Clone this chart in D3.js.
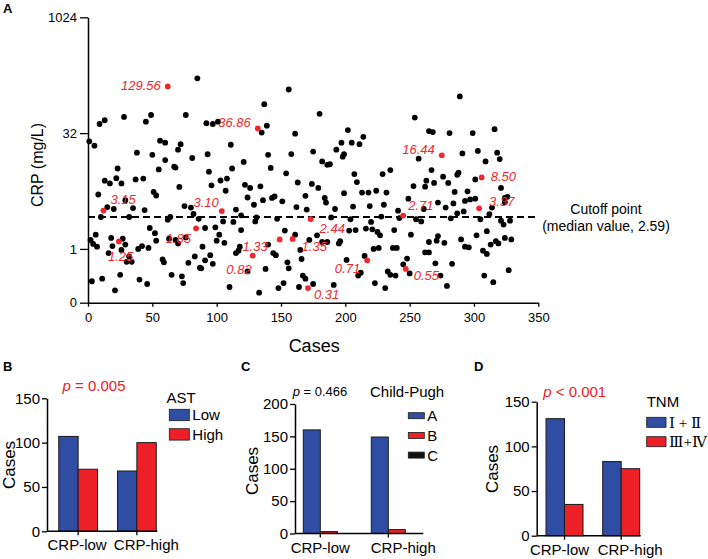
<!DOCTYPE html>
<html>
<head>
<meta charset="utf-8">
<script src="https://cdn.jsdelivr.net/npm/d3@7"></script>
<style>
  body { margin: 0; background: #fff; }
  svg text { font-family: "Liberation Sans", Arial, Helvetica, sans-serif; }
</style>
</head>
<body>
<svg id="chart" width="708" height="559"></svg>
<script>
// ---------- Datos ----------
// Panel A: [caso, CRP (mg/L)] para cada paciente (puntos negros)
const caseCrp = [
  [85,165],[28,52],[49,55],[45,45],[76,55],[9,42],[13,47],[1,25],[5,22],[56,25.5],[60,24],[72,23],[70,19.5],
  [38,17.8],[50,16.7],[60,14.3],[81,15.2],[67,11.7],[68,11.4],[55,10.8],[23,11.1],[22,8.3],[13,7.7],[17,7.1],
  [26,7.1],[37,8.0],[43,8.2],[71,6.4],[51,5.5],[53,4.95],[8,5.1],[29,4.3],[15,3.5],[20,3.3],[35,3.4],[44,3.2],
  [75,3.6],[80,3.45],[10,2.6],[32,2.6],[62,2.4],[64,2.6],[82,2.85],[86,2.46],[48,1.87],[52,1.6],[6,1.53],
  [2,1.31],[4,1.16],[7,1.07],[18,1.39],[27,1.36],[19,1.09],[16,0.88],[29,1.14],[26,0.97],[32,0.8],[30,0.68],
  [34,0.68],[39,1.0],[42,1.09],[47,1.03],[53,1.28],[63,1.36],[68,1.31],[70,1.18],[76,1.41],[78,0.66],[83,0.8],
  [58,0.73],[59,0.67],[3,0.38],[11,0.41],[25,0.46],[40,0.4],[46,0.35],[21,0.29],[65,0.46],[73,0.44],[74,0.36],
  [87,0.57],
  [156,118],[137,76],[92,43],[97,42],[101,45],[139,40],[135,32.5],[161,31.5],[111,22.6],[93,17],[140,16.7],
  [158,17.1],[175,18.4],[121,13.5],[112,11.1],[142,11.3],[94,10.1],[154,9.6],[103,7.75],[108,8.2],[96,6.7],
  [122,6.8],[126,6.2],[134,6.5],[107,5.7],[163,7.3],[174,7.0],[124,4.66],[129,3.75],[136,4.3],[143,4.6],
  [145,4.8],[151,4.15],[169,4.9],[162,3.5],[170,3.25],[115,3.25],[119,2.73],[131,2.57],[130,2.28],[147,2.46],
  [105,2.28],[113,2.24],[99,1.91],[91,1.87],[119,1.76],[102,1.53],[100,1.28],[106,1.2],[89,1.07],[95,0.83],
  [91,0.71],[97,0.64],[88,0.56],[115,0.88],[117,0.95],[118,1.07],[124,0.51],[140,1.14],[144,0.88],[146,0.83],
  [153,1.73],[161,1.53],[165,0.97],[172,1.31],[166,0.74],[155,0.67],[156,0.56],[138,0.55],[167,0.45],
  [169,0.41],[110,0.32],[133,0.27],[148,0.31],[152,0.36],[164,0.32],
  [180,57],[182,13.7],[186,12.4],[188,12.6],[202,35],[197,24],[193,19.5],[205,24],[211,23],[214,28.6],
  [198,15.8],[199,17],[179,6.2],[184,4.6],[185,4.0],[192,3.3],[199,5.3],[207,9.4],[209,7.4],[213,5.4],
  [218,5.4],[224,5.7],[232,5.4],[229,9.4],[235,10.6],[206,3.55],[219,3.6],[230,3.75],[189,2.57],[204,2.43],
  [220,2.24],[228,2.63],[241,3.14],[242,2.52],[254,51],[257,14.9],[253,6.55],[249,4.5],[255,2.43],[259,2.28],
  [203,1.73],[208,1.76],[216,1.84],[221,1.8],[225,1.66],[227,1.5],[238,1.76],[251,1.53],[178,1.5],[182,1.23],
  [186,1.23],[195,1.18],[196,1.26],[222,1.0],[226,1.03],[237,1.03],[240,1.03],[215,0.81],[201,0.72],
  [248,0.75],[245,0.63],[250,0.48],[212,0.49],[210,0.45],[233,0.51],[235,0.46],[239,0.45],[175,0.35],
  [191,0.34],[223,0.36],[231,0.31],
  [289,96],[316,36],[265,34],[268,33],[281,32],[299,32],[291,17.4],[303,18.8],[318,17.8],[320,14.7],
  [309,13.7],[267,10.6],[287,9.2],[288,9.8],[276,8.7],[280,7.2],[263,7.7],[269,7.2],[262,6.45],[301,8.0],
  [285,5.5],[295,5.6],[321,6.2],[293,4.2],[297,4.4],[301,4.5],[284,3.9],[272,4.0],[278,3.45],[261,3.3],
  [324,4.6],[326,4.75],[324,4.05],[314,3.45],[287,2.9],[292,3.07],[282,2.5],[312,2.83],[305,2.43],[321,2.33],
  [323,2.07],[328,2.33],[310,1.7],[302,1.5],[290,1.33],[272,1.47],[271,1.28],[277,1.2],[265,1.23],[293,1.07],
  [296,1.05],[307,0.95],[310,0.86],[313,1.14],[317,1.26],[319,1.18],[324,1.39],[329,1.33],[262,0.9],[265,0.9],
  [270,0.65],[283,0.64],[327,0.53],[274,0.45],[308,0.45],[315,0.37],[279,0.33]
];

// Puntos destacados en rojo (con su valor como etiqueta)
const highlightCase = [62, 132, 275, 306, 304, 245, 173, 12, 104, 84, 24, 149, 159, 128, 217, 247, 171];
const highlightCrp  = [129.56, 36.86, 16.44, 8.50, 3.37, 2.71, 2.44, 3.15, 3.10, 1.85, 1.25, 1.33, 1.35, 0.82, 0.71, 0.55, 0.31];

// Posición de cada etiqueta respecto a su punto (anchor, dx, dy)
const labelAnchor = ["end","end","end","start","start","start","start","start","end","end","start","end","start","end","end","start","start"];
const labelDx = [-7, -7, -7, 9, 10, 5, 9, 7, -3, -5, -11, -12, 9, -1, -7, 8, 6];
const labelDy = [4, -1, -1, 4, -2, -6, 14, -7, -4, 15, 20, 12, 12, 18, 13, 11, 11];

const cutoffCrp = 2.59;
const caseTicks = [0, 50, 100, 150, 200, 250, 300, 350];
const crpTicks = [0.2, 1, 32, 1024];
const crpTickLabels = ["0", "1", "32", "1024"];

// Paneles B-D: casos por grupo de CRP
const crpGroups = ["CRP-low", "CRP-high"];
const astLevels = ["Low", "High"];
const astCases = [[107, 70], [68, 100]];
const childPughClasses = ["A", "B", "C"];
const childPughCases = [[160, 3, 0], [149, 6, 0]];
const tnmStages = ["Ⅰ + Ⅱ", "Ⅲ+Ⅳ"];
const tnmCases = [[131, 35], [83, 75]];

// Colores
const blue = "#2f4ea3";
const red = "#ed2027";
const labelRed = "#f2262c";

const svg = d3.select("#chart");

// ---------- Panel A: dispersión ----------
const xA = d3.scaleLinear().domain([0, 350]).range([88, 538.3]);
const yA = d3.scaleLog().base(2).domain([0.2, 1024]).range([302.7, 17.3]);

svg.append("text").attr("x", 3).attr("y", 13)
  .style("font-size", "13px").style("font-weight", "bold").text("A");

const xAxisA = svg.append("g")
  .attr("transform", `translate(0,${yA.range()[0]})`)
  .call(d3.axisBottom(xA).tickValues(caseTicks).tickSize(4).tickPadding(6).tickSizeOuter(0));

const yAxisA = svg.append("g")
  .attr("transform", `translate(${xA.range()[0]},0)`)
  .call(d3.axisLeft(yA).tickValues(crpTicks).tickFormat((d, i) => crpTickLabels[i])
    .tickSize(8).tickPadding(3).tickSizeOuter(0));

[xAxisA, yAxisA].forEach(ax => {
  ax.select(".domain").attr("stroke", "#000").attr("stroke-width", 1.5);
  ax.selectAll(".tick line").attr("stroke", "#000").attr("stroke-width", 1.3);
  ax.selectAll("text").style("font-size", "13px").attr("fill", "#000")
    .style("font-family", "'Liberation Sans', Arial, sans-serif");
});

svg.append("text")
  .attr("transform", `translate(43,165) rotate(-90)`)
  .attr("text-anchor", "middle")
  .style("font-size", "16px")
  .text("CRP (mg/L)");

svg.append("text")
  .attr("x", (xA.range()[0] + xA.range()[1]) / 2 + 1).attr("y", 352)
  .attr("text-anchor", "middle")
  .style("font-size", "18px")
  .text("Cases");

// Línea de corte (mediana)
svg.append("line")
  .attr("x1", xA(0)).attr("x2", xA(350))
  .attr("y1", yA(cutoffCrp)).attr("y2", yA(cutoffCrp))
  .attr("stroke", "#000").attr("stroke-width", 2).attr("stroke-dasharray", "7,4");

svg.append("text").attr("x", 606).attr("y", 214).attr("text-anchor", "middle")
  .style("font-size", "14px").text("Cutoff point");
svg.append("text").attr("x", 606).attr("y", 231).attr("text-anchor", "middle")
  .style("font-size", "14px").text(`(median value, ${cutoffCrp})`);

// Puntos negros
svg.append("g").selectAll("circle")
  .data(caseCrp)
  .join("circle")
  .attr("cx", d => xA(d[0]))
  .attr("cy", d => yA(d[1]))
  .attr("r", 2.9)
  .attr("fill", "#000");

// Puntos rojos y etiquetas
const hl = svg.append("g");
hl.selectAll("circle")
  .data(highlightCrp)
  .join("circle")
  .attr("cx", (d, i) => xA(highlightCase[i]))
  .attr("cy", d => yA(d))
  .attr("r", 2.9)
  .attr("fill", labelRed);

hl.selectAll("text")
  .data(highlightCrp)
  .join("text")
  .attr("x", (d, i) => xA(highlightCase[i]) + labelDx[i])
  .attr("y", d => yA(d))
  .attr("dy", (d, i) => labelDy[i])
  .attr("text-anchor", (d, i) => labelAnchor[i])
  .style("font-size", "13px")
  .style("font-style", "italic")
  .attr("fill", labelRed)
  .text(d => d.toFixed(2));

// ---------- Paneles B-D: barras ----------
function drawBarPanel(cfg) {
  const g = svg.append("g");

  g.append("text").attr("x", cfg.letterX).attr("y", 371)
    .style("font-size", "13px").style("font-weight", "bold").text(cfg.letter);

  const y = d3.scaleLinear().domain([0, cfg.yMax]).range([cfg.yBottom, cfg.yTop]);
  const x0 = d3.scaleBand().domain(crpGroups).range(cfg.xRange)
    .paddingInner(cfg.padIn).paddingOuter(cfg.padOut);
  const x1 = d3.scaleBand().domain(cfg.series).range([0, x0.bandwidth()]);

  // Barras
  crpGroups.forEach((grp, gi) => {
    g.append("g").selectAll("rect")
      .data(cfg.values[gi].map((v, i) => ({ v, s: cfg.series[i], i })).filter(d => d.v > 0))
      .join("rect")
      .attr("x", d => x0(grp) + x1(d.s))
      .attr("y", d => y(d.v))
      .attr("width", x1.bandwidth())
      .attr("height", d => y(0) - y(d.v))
      .attr("fill", d => cfg.colors[d.i])
      .attr("stroke", "#1a1a1a")
      .attr("stroke-width", 1);
  });

  // Eje Y
  const yAxis = g.append("g")
    .attr("transform", `translate(${cfg.xRange[0]},0)`)
    .call(d3.axisLeft(y).tickValues(cfg.yTicks).tickSize(5).tickPadding(2).tickSizeOuter(0));
  yAxis.select(".domain").attr("stroke", "#000").attr("stroke-width", 1.5);
  yAxis.selectAll(".tick line").attr("stroke", "#000").attr("stroke-width", 1.3);
  yAxis.selectAll("text").style("font-size", "15px").attr("fill", "#000")
    .style("font-family", "'Liberation Sans', Arial, sans-serif");

  // Eje X (línea hasta la última barra)
  const lastGroup = crpGroups[crpGroups.length - 1];
  const xEnd = x0(lastGroup) + x1(cfg.series[cfg.axisEndSeries]) + x1.bandwidth() + 1;
  g.append("line")
    .attr("x1", cfg.xRange[0]).attr("x2", xEnd)
    .attr("y1", y(0)).attr("y2", y(0))
    .attr("stroke", "#000").attr("stroke-width", 1.5);

  crpGroups.forEach((grp, gi) => {
    const cx = x0(grp) + (cfg.labelAt ? x1(cfg.labelAt) : x0.bandwidth() / 2);
    g.append("line").attr("x1", cx).attr("x2", cx)
      .attr("y1", y(0)).attr("y2", y(0) + 4)
      .attr("stroke", "#000").attr("stroke-width", 1.3);
    g.append("text").attr("x", cx + cfg.labelShift[gi]).attr("y", y(0) + 19)
      .attr("text-anchor", "middle").style("font-size", "15px").text(grp);
  });

  // Título del eje Y
  g.append("text")
    .attr("transform", `translate(${cfg.yLabelX},${cfg.yLabelY}) rotate(-90)`)
    .attr("text-anchor", "middle")
    .style("font-size", "17px")
    .text("Cases");

  // Valor p
  const p = g.append("text")
    .attr("x", cfg.pX).attr("y", cfg.pY)
    .attr("text-anchor", "middle")
    .style("font-size", cfg.pSize + "px")
    .attr("fill", cfg.pColor);
  p.append("tspan").style("font-style", "italic").text("p");
  p.append("tspan").text(cfg.pText);

  // Leyenda
  const lg = g.append("g");
  lg.append("text").attr("x", cfg.legendX).attr("y", cfg.legendY)
    .style("font-size", "15px").text(cfg.legendTitle);
  cfg.series.forEach((s, i) => {
    const top = cfg.swatchY + i * cfg.swatchStep;
    lg.append("rect")
      .attr("x", cfg.swatchX).attr("y", top)
      .attr("width", cfg.swatchW).attr("height", cfg.swatchH)
      .attr("fill", cfg.colors[i]).attr("stroke", "#1a1a1a").attr("stroke-width", 0.8);
    lg.append("text")
      .attr("x", cfg.swatchX + cfg.swatchW + 3).attr("y", top + cfg.swatchH / 2)
      .attr("dy", "0.36em")
      .style("font-size", (cfg.legendSize || 15) + "px")
      .style("font-family", cfg.legendFont || null)
      .text(s);
  });
}

drawBarPanel({
  letter: "B", letterX: 3,
  series: astLevels, values: astCases, colors: [blue, red],
  xRange: [47, 168], padIn: 0.34, padOut: 0.2, axisEndSeries: 1, labelShift: [-1, 9.5],
  yMax: 150, yTicks: [0, 50, 100, 150], yTop: 398.3, yBottom: 531.3,
  yLabelX: 15, yLabelY: 465,
  pX: 94, pY: 391, pSize: 15, pColor: red, pText: " = 0.005",
  legendTitle: "AST", legendX: 166.5, legendY: 403,
  swatchX: 169.3, swatchY: 409.3, swatchW: 20, swatchH: 11.4, swatchStep: 19.4
});

drawBarPanel({
  letter: "C", letterX: 241,
  series: childPughClasses, values: childPughCases, colors: [blue, red, "#111"],
  xRange: [295, 430.6], padIn: 0.25, padOut: 0.122, axisEndSeries: 2, labelAt: "B", labelShift: [0, 15],
  yMax: 200, yTicks: [0, 50, 100, 150, 200], yTop: 404, yBottom: 533.5,
  yLabelX: 258, yLabelY: 471,
  pX: 320, pY: 396, pSize: 13, pColor: "#000", pText: " = 0.466",
  legendTitle: "Child-Pugh", legendX: 370, legendY: 397,
  swatchX: 408.3, swatchY: 412.7, swatchW: 16, swatchH: 6, swatchStep: 19.7
});

drawBarPanel({
  letter: "D", letterX: 474,
  series: tnmStages, values: tnmCases, colors: [blue, red],
  xRange: [536.7, 649], padIn: 0.347, padOut: 0.164, axisEndSeries: 1, labelShift: [-5, 9],
  yMax: 150, yTicks: [0, 50, 100, 150], yTop: 401.7, yBottom: 535.7,
  yLabelX: 498, yLabelY: 469,
  pX: 574.7, pY: 396.5, pSize: 15, pColor: red, pText: " < 0.001",
  legendTitle: "TNM", legendX: 646.7, legendY: 406.7,
  swatchX: 646.7, swatchY: 417.3, swatchW: 19.3, swatchH: 10, swatchStep: 19.4,
  legendFont: "'Liberation Serif', 'DejaVu Serif', serif", legendSize: 15
});
</script>
</body>
</html>
